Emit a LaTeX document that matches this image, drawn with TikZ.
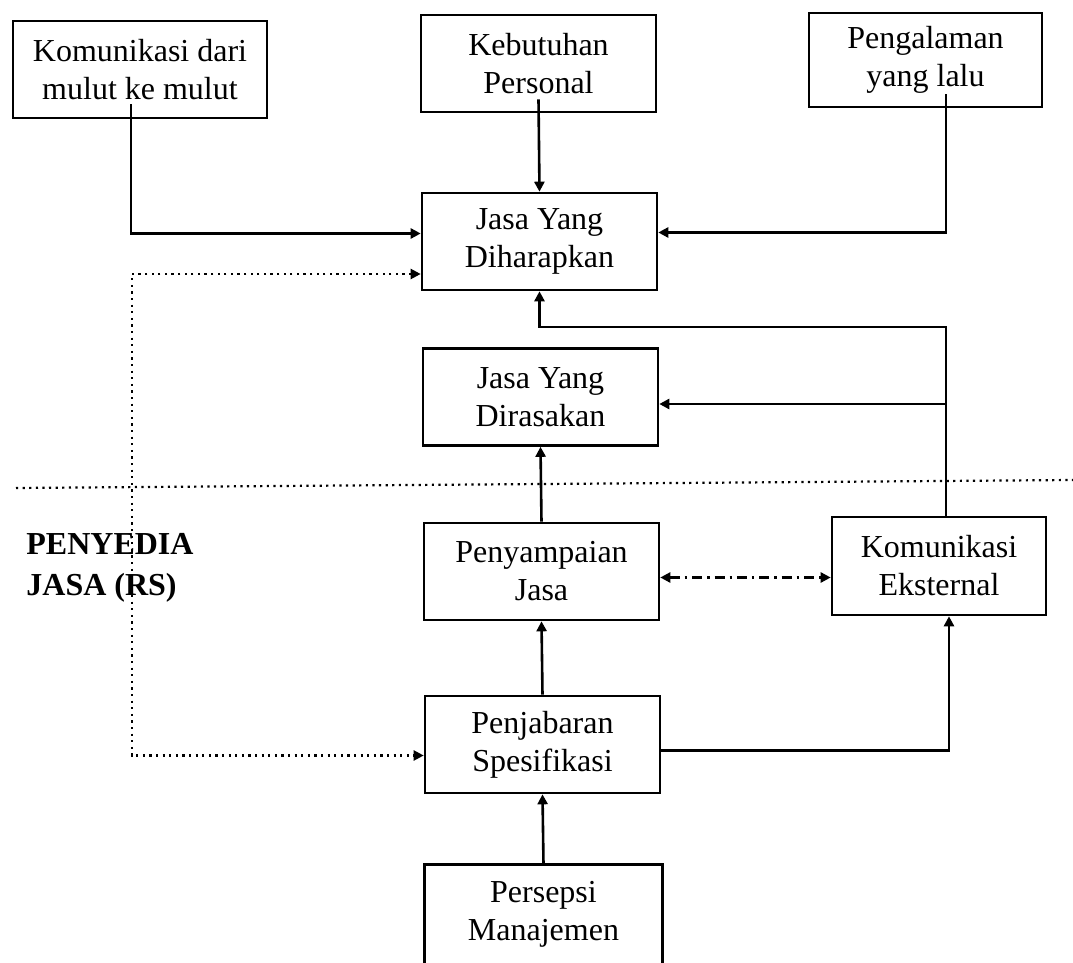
\documentclass[tikz,border=0pt]{standalone}
\usepackage{fontspec}
\setmainfont{Liberation Serif}
\usetikzlibrary{positioning,calc,arrows.meta}
\tikzset{
  kotak/.style={draw, line width=1.3pt, align=center, minimum width=117.5pt, minimum height=48.5pt, inner sep=0pt, font=\fontsize{16}{19}\selectfont},
  panah/.style={line width=1.3pt, -{Triangle[length=5pt,width=5pt]}},
  titik/.style={line width=1.1pt, dash pattern=on 1.1pt off 2.2pt},
  titikstrip/.style={line width=1.2pt, dash pattern=on 5pt off 2.5pt on 1.2pt off 2.5pt},
}

\begin{document}
\begin{tikzpicture}[x=0.5pt, y=-0.5pt]
			\useasboundingbox (0,0) rectangle (1073,963);
			\node [kotak, minimum width=127pt] (kom) at (140,69.5) {Komunikasi dari\\mulut ke mulut};
			\node [kotak] (butuh) at (538.5,63.5) {Kebutuhan\\Personal};
			\node [kotak, minimum width=116.5pt, minimum height=47pt] (alam) at (925.5,60) {Pengalaman\\yang lalu};
			\node [kotak] (harap) at (539.5,241.5) {Jasa Yang\\Diharapkan};
			\node [kotak] (rasa) at (540.5,397) {Jasa Yang\\Dirasakan};
			\node [kotak] (sampai) at (541.5,571.5) {Penyampaian\\Jasa};
			\node [kotak, minimum width=107pt, minimum height=49pt] (eks) at (939,566) {Komunikasi\\Eksternal};
			\node [kotak] (jabar) at (542.5,744.5) {Penjabaran\\Spesifikasi};
			\node [kotak, draw=none] (manaj) at (543.5,914) {Persepsi\\Manajemen};
			\draw [line width=1.3pt] ($(manaj.south west)+(0,12)$) -- (manaj.north west) -- (manaj.north east) -- ($(manaj.south east)+(0,12)$);
			\node [font=\fontsize{16}{20.5}\selectfont\bfseries, align=left, anchor=north west, inner sep=0pt] (penyedia) at (26,533) {PENYEDIA\\JASA (RS)};
			\coordinate (belok) at (946,327);
			\coordinate (cabang) at (946,404);
			\draw [titik] (16,488) -- (1073,480);
			\draw [panah] ($(kom.south)+(-9,-15)$) |- ($(harap.west)+(0,-8)$);
			\draw [panah] ($(butuh.south)+(0,-14)$) -- (harap.north);
			\draw [panah] ($(alam.south)+(20.5,-14)$) |- ($(harap.east)+(0,-9)$);
			\draw [panah] ($(eks.north)+(7,0)$) -- (belok) -| (harap.south);
			\draw [panah] (cabang) -- (cabang -| rasa.east);
			\draw [panah] (sampai.north) -- (rasa.south);
			\draw [panah] (jabar.north) -- (sampai.south);
			\draw [panah] (manaj.north) -- (jabar.south);
			\draw [panah] ($(jabar.east)+(0,6)$) -| ($(eks.south)+(10,0)$);
			\draw [titikstrip, {Triangle[length=5pt,width=5pt]}-{Triangle[length=5pt,width=5pt]}] ($(sampai.east)+(0,6)$) coordinate (ds) -- (ds -| eks.west);
			\draw [titik, {Triangle[length=5pt,width=5pt]}-{Triangle[length=5pt,width=5pt]}] ($(harap.west)+(0,32.5)$) -| ($(jabar.west)+(-292,11)$) -- ($(jabar.west)+(0,11)$);
		\end{tikzpicture}
\end{document}
